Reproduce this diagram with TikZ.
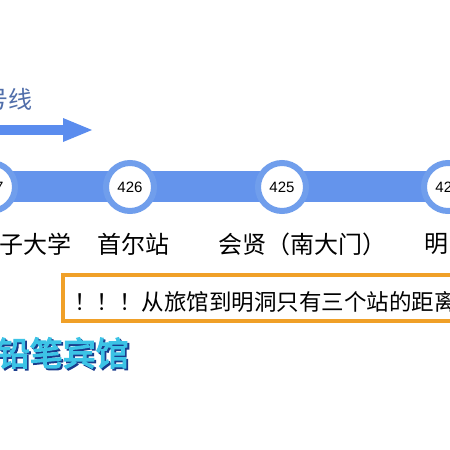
\documentclass[tikz,border=0pt]{standalone}
\usepackage{fontspec}
\newfontfamily\cjk{Noto Sans CJK SC}
\newfontfamily\cjkb[FakeBold=4]{Noto Sans CJK SC}
\setsansfont{Liberation Sans}
\definecolor{bandblue}{RGB}{100,148,236}
\definecolor{ringblue}{RGB}{112,158,236}
\definecolor{arrowblue}{RGB}{90,140,238}
\definecolor{titleblue}{RGB}{80,110,170}
\definecolor{boxorange}{RGB}{240,160,40}
\definecolor{hotelcyan}{RGB}{60,195,230}
\definecolor{hotelshadow}{RGB}{25,60,140}
\tikzset{
  stn/.style={circle, draw=ringblue, line width=6pt, fill=white, minimum size=48pt, inner sep=0pt, font=\sffamily\fontsize{15}{15}\selectfont},
  lbl/.style={inner sep=0pt, font=\cjk\fontsize{24}{24}\selectfont},
  hotelfont/.style={anchor=east, inner sep=0pt, font=\cjkb\fontsize{33}{33}\selectfont},
}
\begin{document}
\begin{tikzpicture}[x=1pt,y=-1pt]
\useasboundingbox[fill=white] (0,0) rectangle (450,450);
% title and direction arrow
\node[anchor=east, inner sep=0pt, text=titleblue, font=\cjk\fontsize{24}{24}\selectfont] (title) at (33,99) {号线};
\coordinate (arrE) at (92,130);
\fill[arrowblue] (0,125) rectangle (65,135);
\fill[arrowblue] (63,118) -- (arrE) -- (63,142) -- cycle;
% band
\fill[bandblue] (0,171) rectangle (450,202);
% stations
\node[stn] (s427) at (-9,187) {427};
\node[stn] (s426) at (130,187) {426};
\node[stn] (s425) at (282,187) {425};
\node[stn] (s424) at (448,187) {424};
% labels
\node[lbl, anchor=east] (l427) at (72,244) {子大学};
\node[lbl] (l426) at (133,244) {首尔站};
\node[lbl] (l425) at (302,244) {会贤（南大门）};
\node[lbl, anchor=west] (l424) at (424,244) {明};
% note box
\draw[boxorange, line width=4pt] (63,275) rectangle (470,321);
\node[anchor=west, inner sep=0pt, font=\cjk\fontsize{22.5}{22.5}\selectfont] (note) at (74,302) {！！！从旅馆到明洞只有三个站的距离};
% hotel name (shadow, then face)
\node[hotelfont, text=hotelshadow] (hotelsh) at (130.8,354.8) {铅笔宾馆};
\node[hotelfont, text=hotelcyan] (hotel) at (129,353) {铅笔宾馆};
\end{tikzpicture}
\end{document}
